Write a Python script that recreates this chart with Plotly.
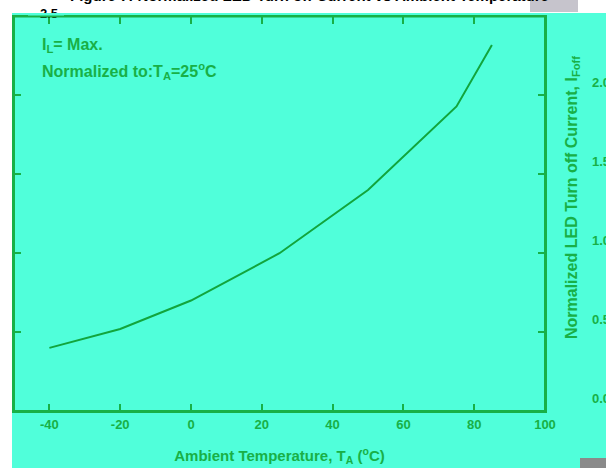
import plotly.graph_objects as go

# ---- data ----
temps = [-40, -20, 0, 25, 50, 75, 85]
current = [0.40, 0.52, 0.70, 1.00, 1.40, 1.93, 2.32]
x_ticks = [-40, -20, 0, 20, 40, 60, 80, 100]
x_tick_labels = ['-40', '-20', '0', '20', '40', '60', '80', '100']
y_ticks = [0.0, 0.5, 1.0, 1.5, 2.0]
y_tick_labels = ['0.0', '0.5', '1.0', '1.5', '2.0']
y_top_tick = [2.5]
y_top_label = ['2.5']

W, H = 606, 468
L, R, T, B = 14, 591, 4, 411          # paper area in pixels


def px(x):
    return (x - L) / (R - L)


def py(y):
    return (B - y) / (B - T)


AQUA = '#50FFDA'
GREEN = '#18b046'
LINE = '#12a53c'
FONT = 'Liberation Sans, Arial, sans-serif'

xd = px(545)          # right edge of plot frame
yd = py(16.5)         # top edge of plot frame
upp = 2.5 / (411 - 16.5)   # units per pixel on y
shift = 13 * upp

fig = go.Figure()
fig.add_trace(go.Scatter(x=temps, y=current, mode='lines',
                         line=dict(color=LINE, width=2), hoverinfo='skip'))
fig.add_trace(go.Scatter(x=[None], y=[None], yaxis='y2', hoverinfo='skip'))
fig.add_trace(go.Scatter(x=[None], y=[None], xaxis='x2', yaxis='y3', hoverinfo='skip'))

tickfont = dict(family=FONT, size=13, color=GREEN, weight='bold')

fig.update_layout(
    width=W, height=H,
    margin=dict(l=L, r=W - R, t=T, b=H - B, pad=0, autoexpand=False),
    paper_bgcolor='white',
    plot_bgcolor='rgba(0,0,0,0)',
    showlegend=False,
    font=dict(family=FONT),
    xaxis=dict(domain=[0, xd], range=[-50, 100], tickvals=x_ticks,
               ticktext=x_tick_labels,
               ticks='inside', ticklen=7, tickwidth=1.5, tickcolor=GREEN,
               showline=True, linecolor=GREEN, linewidth=2, mirror='ticks',
               showgrid=False, zeroline=False, tickfont=tickfont,
               ticklabelstandoff=0, automargin=False,
               title=dict(text='Ambient Temperature, T<sub>A</sub> (<sup>o</sup>C)',
                          font=dict(family=FONT, size=15, color=GREEN, weight='bold'),
                          standoff=20)),
    yaxis=dict(domain=[0, yd], range=[0, 2.5], tickvals=y_ticks[1:],
               ticks='inside', ticklen=7, tickwidth=1.5, tickcolor=GREEN,
               showline=True, linecolor=GREEN, linewidth=2, mirror='ticks',
               showgrid=False, zeroline=False, showticklabels=False,
               automargin=False),
    yaxis2=dict(overlaying='y', anchor='free', position=1.0, side='right',
                range=[-shift, 2.5 - shift], tickvals=y_ticks,
                ticktext=y_tick_labels,
                ticks='', showline=False, showgrid=False, zeroline=False,
                tickfont=tickfont, automargin=False),
    xaxis2=dict(domain=[0, xd], range=[-50, 100], visible=False, anchor='y3'),
    yaxis3=dict(domain=[0, 1], anchor='free', position=px(58), side='left',
                range=[0, 2.5 / py(13)], tickvals=y_top_tick,
                ticktext=y_top_label,
                ticks='', showline=False, showgrid=False, zeroline=False,
                automargin=False,
                tickfont=dict(family=FONT, size=13, color='black', weight='bold')),
    shapes=[
        dict(type='rect', xref='paper', yref='paper', layer='below',
             x0=px(12), x1=px(610), y0=py(472), y1=py(13),
             fillcolor=AQUA, line=dict(width=0)),
        dict(type='rect', xref='paper', yref='paper', layer='below',
             x0=px(530), x1=px(578), y0=py(12), y1=py(0),
             fillcolor='#c6c4cc', line=dict(width=0)),
        dict(type='rect', xref='paper', yref='paper', layer='above',
             x0=px(580), x1=px(610), y0=py(470), y1=py(458),
             fillcolor='#8a8a8a', line=dict(width=0)),
        dict(type='rect', xref='paper', yref='paper', layer='above',
             x0=px(28), x1=px(64), y0=py(16.5), y1=py(13),
             fillcolor=AQUA, line=dict(width=0)),
        dict(type='rect', xref='paper', yref='paper', layer='above',
             x0=0, x1=xd, y0=0, y1=yd,
             fillcolor='rgba(0,0,0,0)', line=dict(color=GREEN, width=2)),
    ],
    annotations=[
        dict(xref='paper', yref='paper', x=px(40), y=py(46), xanchor='left',
             yanchor='middle', showarrow=False, text='I<sub>L</sub>= Max.',
             font=dict(family=FONT, size=16, color=GREEN, weight='bold')),
        dict(xref='paper', yref='paper', x=px(40), y=py(71), xanchor='left',
             yanchor='middle', showarrow=False,
             text='Normalized to:T<sub>A</sub>=25<sup>o</sup>C',
             font=dict(family=FONT, size=16, color=GREEN, weight='bold')),
        dict(xref='paper', yref='paper', x=px(573), y=py(198), xanchor='center',
             yanchor='middle', showarrow=False, textangle=-90,
             text='Normalized LED Turn off Current, I<sub>Foff</sub>',
             font=dict(family=FONT, size=16, color=GREEN, weight='bold')),
        dict(xref='paper', yref='paper', x=px(309), y=py(6.5), xanchor='center',
             yanchor='bottom', showarrow=False,
             text='Figure 7: Normalized LED Turn off Current vs Ambient Temperature',
             font=dict(family=FONT, size=15, color='black', weight='bold')),
    ],
)

fig.write_html('out.html',
               config={'displayModeBar': False},
               post_script="document.body.style.margin='0px';"
                           "document.body.style.overflow='hidden';")
